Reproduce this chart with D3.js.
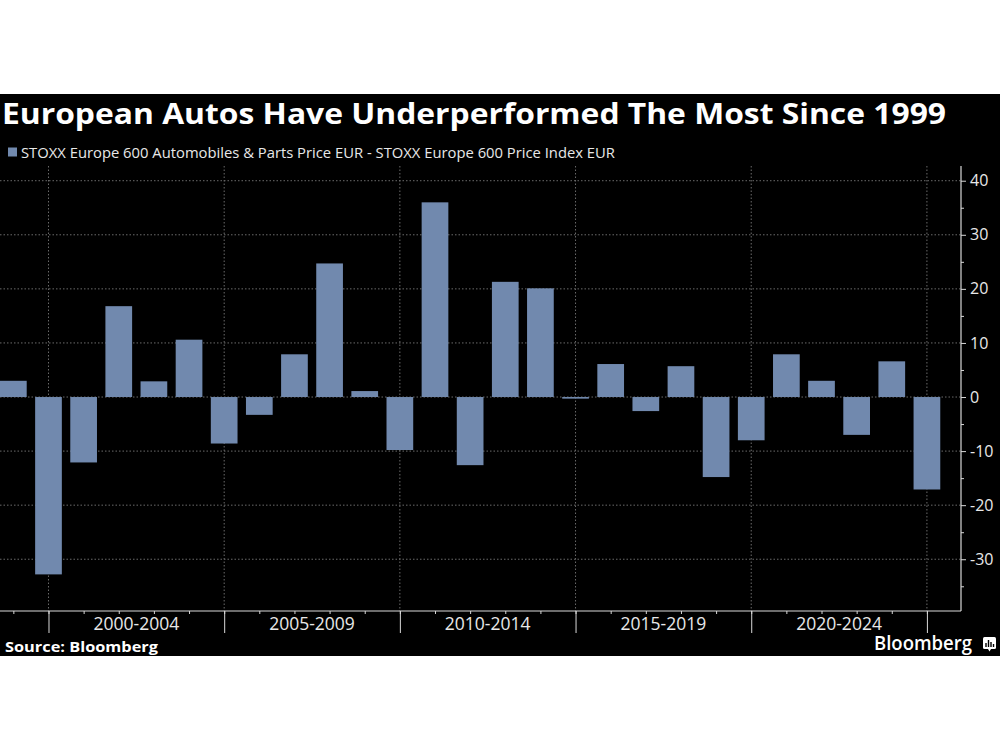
<!DOCTYPE html>
<html>
<head>
<meta charset="utf-8">
<script src="https://cdn.jsdelivr.net/npm/d3@7"></script>
<style>
  html, body { margin: 0; padding: 0; background: #fff; }
  svg { display: block; }
</style>
</head>
<body>
<svg id="chart" width="1000" height="750"></svg>
<script>
// ---- data ----
const years = [1998, 1999, 2000, 2001, 2002, 2003, 2004, 2005, 2006, 2007, 2008, 2009, 2010,
               2011, 2012, 2013, 2014, 2015, 2016, 2017, 2018, 2019, 2020, 2021, 2022, 2023, 2024];
const values = [3.0, -32.8, -12.1, 16.8, 2.9, 10.6, -8.6, -3.3, 7.9, 24.7, 1.1, -9.8, 36.0,
                -12.6, 21.3, 20.1, -0.3, 6.1, -2.6, 5.7, -14.8, -8.0, 7.9, 3.0, -7.0, 6.6, -17.1];
const yTicks = [-30, -20, -10, 0, 10, 20, 30, 40];
const yMinorTicks = [-35, -25, -15, -5, 5, 15, 25, 35];
const periodStarts = [2000, 2005, 2010, 2015, 2020];
const periodLabels = ["2000-2004", "2005-2009", "2010-2014", "2015-2019", "2020-2024"];
const periodBounds = [2000, 2005, 2010, 2015, 2020, 2025];
const title = "European Autos Have Underperformed The Most Since 1999";
const legendLabel = "STOXX Europe 600 Automobiles & Parts Price EUR - STOXX Europe 600 Price Index EUR";
const source = "Source: Bloomberg";

// ---- layout ----
const svg = d3.select("#chart");
const plot = { left: 0, right: 961, top: 166, bottom: 611 };
const barColor = "#7189ae";
const gridColor = "#6b6b6b";
const axisColor = "#d9d9d9";
const textColor = "#e8e8e8";
const font = "'Open Sans', 'DejaVu Sans', sans-serif";

// black panel
svg.append("rect").attr("x", 0).attr("y", 94).attr("width", 1000).attr("height", 562).attr("fill", "#000");

// scales (time in years; annual bar dated at year end)
const x = d3.scaleLinear().domain([1998.62, 2025.97]).range([plot.left, plot.right]);
const y = d3.scaleLinear().domain([-39.57, 42.72]).range([plot.bottom, plot.top]);

// title
svg.append("text").attr("x", 2).attr("y", 124)
  .attr("font-family", font).attr("font-weight", 700).attr("font-size", 28)
  .attr("fill", "#fff").attr("textLength", 944).attr("lengthAdjust", "spacingAndGlyphs")
  .text(title);

// legend
svg.append("rect").attr("x", 8).attr("y", 147.5).attr("width", 9).attr("height", 9).attr("fill", barColor);
svg.append("text").attr("x", 21).attr("y", 157.5)
  .attr("font-family", font).attr("font-size", 14.5).attr("fill", textColor)
  .attr("textLength", 594).attr("lengthAdjust", "spacingAndGlyphs")
  .text(legendLabel);

// gridlines
const grid = svg.append("g");
grid.selectAll("line.h").data(yTicks).join("line")
  .attr("x1", plot.left).attr("x2", plot.right)
  .attr("y1", d => y(d)).attr("y2", d => y(d))
  .attr("stroke", gridColor).attr("stroke-width", 1).attr("stroke-dasharray", "1.5,2");
grid.selectAll("line.v").data(periodBounds).join("line")
  .attr("x1", d => x(d)).attr("x2", d => x(d))
  .attr("y1", plot.top).attr("y2", plot.bottom)
  .attr("stroke", gridColor).attr("stroke-width", 1).attr("stroke-dasharray", "1.5,2");

// bars
const step = x(1) - x(0);
const bw = step * 0.76;
svg.append("g").selectAll("rect").data(years.map((yr, i) => ({ yr, v: values[i] }))).join("rect")
  .attr("x", d => x(d.yr + 1) - bw / 2)
  .attr("width", bw)
  .attr("y", d => Math.min(y(d.v), y(0)))
  .attr("height", d => Math.max(1, Math.abs(y(d.v) - y(0))))
  .attr("fill", barColor);

// y axis (right)
const yAxis = d3.axisRight(y).tickValues(yTicks).tickSize(5).tickPadding(4)
  .tickFormat(d => d < 0 ? "-" + Math.abs(d) : String(d));
const gy = svg.append("g").attr("transform", `translate(${plot.right},0)`).call(yAxis);
gy.select(".domain").remove();
gy.selectAll(".tick line").attr("stroke", axisColor);
gy.selectAll(".tick text").attr("fill", textColor).attr("font-family", font).attr("font-size", 16);
const gyMinor = svg.append("g").attr("transform", `translate(${plot.right},0)`)
  .call(d3.axisRight(y).tickValues(yMinorTicks).tickSize(3).tickFormat(""));
gyMinor.select(".domain").remove();
gyMinor.selectAll(".tick line").attr("stroke", axisColor);
svg.append("line").attr("x1", plot.right).attr("x2", plot.right)
  .attr("y1", plot.top).attr("y2", plot.bottom).attr("stroke", axisColor).attr("stroke-width", 1.2);

// x axis
svg.append("line").attr("x1", plot.left).attr("x2", plot.right)
  .attr("y1", plot.bottom).attr("y2", plot.bottom).attr("stroke", axisColor).attr("stroke-width", 1.2);
const gxMinor = svg.append("g").attr("transform", `translate(0,${plot.bottom})`)
  .call(d3.axisBottom(x).tickValues(years.map(d => d + 1)).tickSize(3).tickFormat(""));
gxMinor.select(".domain").remove();
gxMinor.selectAll(".tick line").attr("stroke", axisColor);
const gxMajor = svg.append("g").attr("transform", `translate(0,${plot.bottom})`)
  .call(d3.axisBottom(x).tickValues(periodBounds).tickSize(22).tickFormat(""));
gxMajor.select(".domain").remove();
gxMajor.selectAll(".tick line").attr("stroke", axisColor);
svg.append("g").selectAll("text").data(periodStarts).join("text")
  .attr("x", d => x(d + 2.5)).attr("y", 629.5)
  .attr("text-anchor", "middle")
  .attr("font-family", font).attr("font-size", 17.5).attr("fill", textColor)
  .text((d, i) => periodLabels[i]);

// footer
svg.append("text").attr("x", 5).attr("y", 652)
  .attr("font-family", font).attr("font-weight", 700).attr("font-size", 15)
  .attr("fill", "#fff").attr("textLength", 153).attr("lengthAdjust", "spacingAndGlyphs")
  .text(source);
svg.append("text").attr("x", 874).attr("y", 650)
  .attr("font-family", font).attr("font-weight", 600).attr("font-size", 19)
  .attr("fill", "#fff").attr("textLength", 98).attr("lengthAdjust", "spacingAndGlyphs")
  .text("Bloomberg");
// logo icon
const logo = svg.append("g").attr("transform", "translate(983,637)");
logo.append("rect").attr("width", 13).attr("height", 12).attr("rx", 1.5).attr("fill", "#fff");
logo.append("path").attr("d", "M5,12 L6.5,14.5 L8,12 Z").attr("fill", "#fff");
[[3, 6, 4], [5.5, 3, 7], [8, 5, 5], [10.5, 7, 3]].forEach(([bx, by, bh]) =>
  logo.append("rect").attr("x", bx - 0.7).attr("y", by).attr("width", 1.4).attr("height", bh).attr("fill", "#000"));
</script>
</body>
</html>
